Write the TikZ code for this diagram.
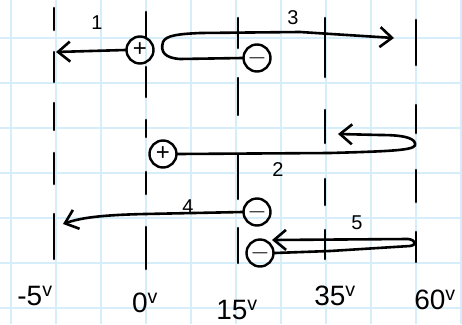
\documentclass[tikz,border=0pt]{standalone}
\usepackage{fontspec}
\setmainfont{Liberation Sans}
\usetikzlibrary{arrows.meta}
\definecolor{gridblue}{RGB}{214,237,250}

\begin{document}
\begin{tikzpicture}[
  x=1pt,y=-1pt,
  gridln/.style={draw=gridblue,line width=1.3pt},
  rail/.style={line width=2.6pt,line cap=round},
  wire/.style={line width=2.6pt,line cap=round,line join=round,-{Straight Barb[length=12pt,width=20pt]}},
  pol/.style={draw,circle,line width=2.4pt,minimum size=27pt,inner sep=0pt,font=\fontsize{24}{24}\selectfont},
  num/.style={font=\fontsize{20}{20}\selectfont},
  volt/.style={font=\fontsize{28}{28}\selectfont},
]
\useasboundingbox (0,0) rectangle (462,324);
% grid paper
\foreach \gx in {11,56,...,461} \draw[gridln] (\gx,0) -- (\gx,324);
\foreach \gy in {38,83,...,308} \draw[gridln] (0,\gy) -- (462,\gy);
% broken voltage rails
\foreach \ya/\yb in {8/30,52/82,103/130,153/184,214/259} \draw[rail] (54,\ya) -- (54,\yb);
\foreach \ya/\yb in {12/37,67/97,120/137,172/194,227/269} \draw[rail] (146,\ya) -- (146,\yb);
\foreach \ya/\yb in {18/48,78/115,155/199,228/263} \draw[rail] (238,\ya) -- (238,\yb);
\foreach \ya/\yb in {18/77,110/143,179/205,230/259} \draw[rail] (325,\ya) -- (325,\yb);
\foreach \ya/\yb in {20/65,105/133,170/202,232/262} \draw[rail] (416,\ya) -- (416,\yb);
% charges
\node[pol] (posA) at (140,50) {+};
\node[pol] (negA) at (257,58) {$-$};
\node[pol] (posB) at (163,154) {+};
\node[pol] (negB) at (257,212) {$-$};
\node[pol] (negC) at (260,253) {$-$};
% moves
\coordinate (tip1) at (56,52);
\coordinate (tip3) at (394,38);
\coordinate (tip2) at (338,134);
\coordinate (tip4) at (63,224);
\coordinate (tip5) at (272,240);
\draw[wire] (posA.west) -- (tip1);
\draw[wire] (negA.west) -- (180,59) .. controls (165,58) and (160,52) .. (163,42)
  .. controls (166,35) and (180,34) .. (200,33) -- (300,32) -- (tip3);
\draw[wire] (posB.east) -- (330,153) .. controls (400,151) and (418,150) .. (415,143)
  .. controls (413,137) and (400,135) .. (380,135) -- (tip2);
\draw[wire] (negB.west) -- (145,214) .. controls (100,215) and (80,218) .. (tip4);
\draw[wire] (negC.east) -- (330,251) -- (410,246) .. controls (417,245) and (416,240) .. (408,239) -- (tip5);
% move numbers
\node[num] (lab1) at (97,23) {1};
\node[num] (lab3) at (293,18) {3};
\node[num] (lab2) at (278,170) {2};
\node[num] (lab4) at (188,207) {4};
\node[num] (lab5) at (357,223) {5};
% voltages
\node[volt] (vm5) at (35,296) {-5\textsuperscript{v}};
\node[volt] (v0) at (145,303) {0\textsuperscript{v}};
\node[volt] (v15) at (237,310) {15\textsuperscript{v}};
\node[volt] (v35) at (335,296) {35\textsuperscript{v}};
\node[volt] (v60) at (435,300) {60\textsuperscript{v}};
\end{tikzpicture}
\end{document}
